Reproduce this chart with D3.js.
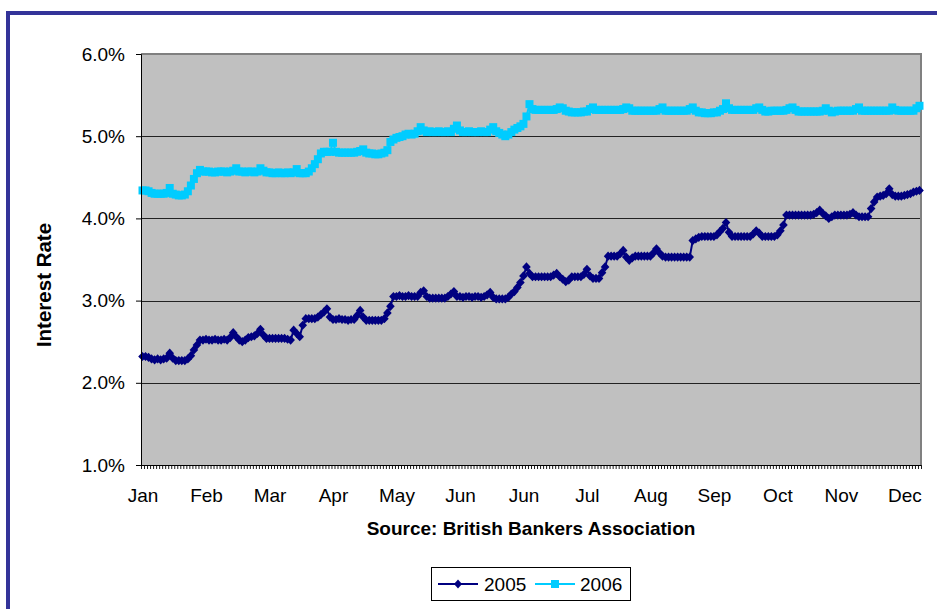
<!DOCTYPE html>
<html>
<head>
<meta charset="utf-8">
<script src="https://cdn.jsdelivr.net/npm/d3@7"></script>
<style>
  html, body { margin: 0; padding: 0; background: #fff; }
  svg { display: block; font-family: Arial, "Liberation Sans", sans-serif; }
</style>
</head>
<body>
<svg id="chart" width="937" height="609"></svg>
<script>
// Month labels along the category axis (one label per 21 trading days)
const monthLabels = ["Jan", "Feb", "Mar", "Apr", "May", "Jun", "Jun", "Jul", "Aug", "Sep", "Oct", "Nov", "Dec"];
const labelStep = 21;

// Interest-rate axis ticks (percent)
const yTicks = [1, 2, 3, 4, 5, 6];

// Daily rates, 2005 (percent)
const rate2005 = [
  2.32,2.32,2.31,2.29,2.28,2.29,2.28,2.29,2.30,2.36,
  2.30,2.27,2.27,2.27,2.27,2.29,2.33,2.40,2.46,2.52,
  2.52,2.53,2.52,2.52,2.53,2.52,2.52,2.53,2.52,2.55,
  2.61,2.56,2.52,2.50,2.52,2.55,2.56,2.57,2.60,2.65,
  2.58,2.54,2.54,2.54,2.54,2.54,2.54,2.54,2.53,2.52,
  2.64,2.60,2.56,2.70,2.78,2.78,2.78,2.78,2.80,2.83,
  2.86,2.90,2.80,2.77,2.77,2.78,2.77,2.77,2.76,2.77,
  2.77,2.82,2.88,2.80,2.76,2.76,2.76,2.76,2.76,2.76,
  2.78,2.85,2.93,3.05,3.05,3.06,3.05,3.05,3.06,3.05,
  3.05,3.05,3.10,3.12,3.05,3.03,3.03,3.03,3.03,3.03,
  3.03,3.05,3.08,3.11,3.05,3.05,3.04,3.05,3.05,3.04,
  3.05,3.05,3.04,3.05,3.07,3.10,3.04,3.02,3.02,3.02,
  3.02,3.04,3.08,3.11,3.16,3.22,3.30,3.41,3.33,3.29,
  3.29,3.29,3.29,3.29,3.29,3.29,3.31,3.33,3.29,3.26,
  3.23,3.25,3.29,3.29,3.29,3.29,3.32,3.38,3.30,3.27,
  3.27,3.27,3.34,3.41,3.54,3.54,3.54,3.54,3.57,3.61,
  3.53,3.49,3.52,3.54,3.54,3.54,3.54,3.54,3.54,3.58,
  3.63,3.58,3.54,3.53,3.53,3.53,3.53,3.53,3.53,3.53,
  3.53,3.53,3.73,3.75,3.77,3.78,3.78,3.78,3.78,3.78,
  3.80,3.84,3.88,3.95,3.83,3.78,3.78,3.78,3.78,3.78,
  3.78,3.78,3.81,3.85,3.82,3.78,3.78,3.78,3.78,3.78,
  3.80,3.85,3.92,4.04,4.04,4.04,4.04,4.04,4.04,4.04,
  4.04,4.04,4.05,4.07,4.10,4.06,4.03,4.00,4.02,4.04,
  4.04,4.04,4.04,4.04,4.05,4.07,4.04,4.02,4.02,4.02,
  4.02,4.12,4.20,4.26,4.27,4.28,4.30,4.36,4.29,4.27,
  4.27,4.27,4.28,4.29,4.30,4.32,4.33,4.34
];

// Daily rates, 2006 (percent)
const rate2006 = [
  4.34,4.34,4.33,4.31,4.30,4.30,4.30,4.30,4.31,4.37,
  4.30,4.29,4.28,4.28,4.29,4.33,4.40,4.48,4.55,4.59,
  4.57,4.57,4.57,4.56,4.56,4.57,4.57,4.57,4.56,4.57,
  4.58,4.61,4.57,4.57,4.56,4.57,4.57,4.56,4.57,4.61,
  4.58,4.56,4.56,4.55,4.55,4.56,4.55,4.55,4.56,4.55,
  4.56,4.60,4.55,4.55,4.55,4.57,4.61,4.66,4.72,4.79,
  4.81,4.81,4.81,4.92,4.81,4.80,4.80,4.80,4.80,4.80,
  4.80,4.81,4.82,4.84,4.80,4.79,4.79,4.78,4.78,4.79,
  4.80,4.83,4.93,4.96,4.98,4.99,5.00,5.02,5.03,5.02,
  5.03,5.06,5.11,5.07,5.05,5.06,5.05,5.05,5.06,5.05,
  5.05,5.06,5.05,5.09,5.13,5.07,5.05,5.05,5.06,5.05,
  5.05,5.05,5.06,5.05,5.05,5.08,5.11,5.06,5.04,5.02,
  5.00,5.02,5.05,5.08,5.10,5.12,5.15,5.24,5.39,5.33,
  5.32,5.32,5.32,5.32,5.32,5.32,5.32,5.33,5.35,5.34,
  5.31,5.30,5.29,5.29,5.29,5.29,5.30,5.30,5.33,5.35,
  5.32,5.32,5.32,5.32,5.32,5.32,5.32,5.32,5.32,5.33,
  5.35,5.34,5.31,5.31,5.31,5.31,5.31,5.31,5.31,5.31,
  5.31,5.33,5.35,5.31,5.31,5.31,5.31,5.31,5.31,5.31,
  5.31,5.33,5.35,5.31,5.29,5.29,5.28,5.28,5.28,5.29,
  5.29,5.31,5.33,5.40,5.34,5.32,5.32,5.32,5.32,5.32,
  5.32,5.32,5.32,5.34,5.35,5.32,5.30,5.30,5.31,5.31,
  5.31,5.31,5.31,5.32,5.34,5.35,5.32,5.30,5.30,5.30,
  5.30,5.30,5.30,5.30,5.30,5.31,5.34,5.31,5.29,5.30,
  5.31,5.31,5.31,5.31,5.31,5.31,5.33,5.35,5.31,5.31,
  5.31,5.31,5.31,5.31,5.31,5.31,5.31,5.31,5.35,5.32,
  5.31,5.31,5.31,5.31,5.31,5.31,5.34,5.37
];

const seriesNames = ["2005", "2006"];
const seriesColors = ["#000080", "#00CCFF"];

const svg = d3.select("#chart");
const plot = { left: 141, top: 54, right: 921, bottom: 465 };
const n = rate2005.length;

// Outer frame
svg.append("rect")
  .attr("x", 8).attr("y", 13)
  .attr("width", 960).attr("height", 640)
  .attr("fill", "#fff")
  .attr("stroke", "#333399").attr("stroke-width", 4);

const x = d3.scaleLinear().domain([0, n]).range([plot.left, plot.right]);
const y = d3.scaleLinear().domain([1, 6]).range([plot.bottom, plot.top]);

// Plot area
svg.append("rect")
  .attr("x", plot.left).attr("y", plot.top)
  .attr("width", plot.right - plot.left).attr("height", plot.bottom - plot.top)
  .attr("fill", "#C0C0C0");

// Horizontal gridlines
svg.append("g").selectAll("line")
  .data(yTicks.filter(d => d > 1 && d < 6))
  .join("line")
  .attr("x1", plot.left).attr("x2", plot.right)
  .attr("y1", d => Math.round(y(d)) + 0.5).attr("y2", d => Math.round(y(d)) + 0.5)
  .attr("stroke", "#222").attr("stroke-width", 1);

// Plot border (top and right)
svg.append("path")
  .attr("d", `M${plot.left},${plot.top}H${plot.right}V${plot.bottom}`)
  .attr("fill", "none").attr("stroke", "#808080").attr("stroke-width", 2);

// Series
const cx = i => x(i + 0.5);
const line = d3.line().x((d, i) => cx(i)).y(d => y(d));
const series = [rate2005, rate2006];

series.forEach((vals, s) => {
  const g = svg.append("g");
  g.append("path")
    .datum(vals)
    .attr("d", line)
    .attr("fill", "none")
    .attr("stroke", seriesColors[s])
    .attr("stroke-width", 2);
  if (s === 0) {
    g.selectAll("path.m").data(vals).join("path")
      .attr("class", "m")
      .attr("d", "M0,-4.6L4.3,0L0,4.6L-4.3,0Z")
      .attr("transform", (d, i) => `translate(${cx(i)},${y(d)})`)
      .attr("fill", seriesColors[s]);
  } else {
    g.selectAll("rect.m").data(vals).join("rect")
      .attr("class", "m")
      .attr("x", (d, i) => cx(i) - 4).attr("y", d => y(d) - 4)
      .attr("width", 8).attr("height", 8)
      .attr("fill", seriesColors[s]);
  }
});

// Y axis
const yAxis = svg.append("g")
  .attr("transform", `translate(${plot.left},0)`)
  .call(d3.axisLeft(y).tickValues(yTicks).tickSize(5).tickPadding(11)
    .tickFormat(d => d.toFixed(1) + "%"));
yAxis.select(".domain").attr("stroke", "#000");
yAxis.selectAll(".tick line").attr("stroke", "#000");
yAxis.selectAll("text").attr("font-size", 19).attr("fill", "#000")
  .attr("font-family", "Arial, 'Liberation Sans', sans-serif");

// X axis: a tick at every category boundary
const xAxis = svg.append("g")
  .attr("transform", `translate(0,${plot.bottom})`)
  .call(d3.axisBottom(x).tickValues(d3.range(n + 1)).tickSize(4).tickFormat(""));
xAxis.select(".domain").attr("stroke", "#000").attr("d", `M${plot.left - 5},0.5H${plot.right}`);
xAxis.selectAll(".tick line").attr("stroke", "#000").attr("stroke-width", 0.9);

// Month labels
const xLabels = svg.append("g")
  .attr("transform", `translate(0,${plot.bottom})`)
  .call(d3.axisBottom(x)
    .tickValues(monthLabels.map((m, k) => k * labelStep + 0.5))
    .tickSize(0).tickPadding(24)
    .tickFormat((d, k) => monthLabels[k]));
xLabels.select(".domain").remove();
xLabels.selectAll("text").attr("font-size", 19).attr("fill", "#000")
  .attr("font-family", "Arial, 'Liberation Sans', sans-serif");

// Axis titles
svg.append("text")
  .attr("transform", "translate(51,285) rotate(-90)")
  .attr("text-anchor", "middle")
  .attr("font-size", 20.5).attr("font-weight", "bold")
  .text("Interest Rate");

svg.append("text")
  .attr("x", 531).attr("y", 535)
  .attr("text-anchor", "middle")
  .attr("font-size", 19).attr("font-weight", "bold")
  .text("Source: British Bankers Association");

// Legend
const legend = svg.append("g");
legend.append("rect")
  .attr("x", 431.5).attr("y", 567.5).attr("width", 199).attr("height", 33)
  .attr("fill", "#fff").attr("stroke", "#000").attr("stroke-width", 1);
const legendItems = [
  { lx: 438, tx: 484 },
  { lx: 535, tx: 580 }
];
legendItems.forEach((it, s) => {
  const ly = 584;
  legend.append("line")
    .attr("x1", it.lx).attr("x2", it.lx + 40)
    .attr("y1", ly).attr("y2", ly)
    .attr("stroke", seriesColors[s]).attr("stroke-width", 2);
  if (s === 0) {
    legend.append("path")
      .attr("d", "M0,-4.5L4,0L0,4.5L-4,0Z")
      .attr("transform", `translate(${it.lx + 20},${ly})`)
      .attr("fill", seriesColors[s]);
  } else {
    legend.append("rect")
      .attr("x", it.lx + 16).attr("y", ly - 4)
      .attr("width", 8).attr("height", 8)
      .attr("fill", seriesColors[s]);
  }
  legend.append("text")
    .attr("x", it.tx).attr("y", 591)
    .attr("font-size", 19)
    .text(seriesNames[s]);
});
</script>
</body>
</html>
